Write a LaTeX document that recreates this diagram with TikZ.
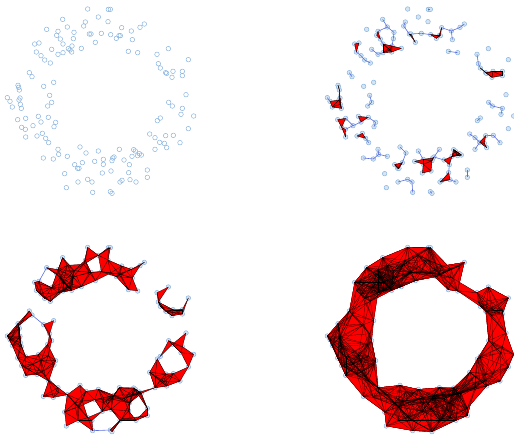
\documentclass[tikz,border=0pt]{standalone}
\usetikzlibrary{calc}
\definecolor{Vc}{HTML}{8AB4DE}
\definecolor{Ec}{HTML}{5C6EE0}
\definecolor{Tc}{HTML}{FF0000}
\tikzset{
  vtx/.style={circle, draw=Vc, line width=0.5pt, inner sep=0pt, minimum size=4.6pt},
  vtxon/.style={vtx, fill=Vc!35},
  tri/.style={fill=Tc},
  mesh/.style={black, line width=0.3pt},
  link/.style={Ec, line width=0.6pt},
}
% point cloud, in thirds of a pixel, y downwards
\def\cloud{263/27,325/28,331/28,295/51,188/58,256/66,324/65,433/72,420/82,140/88,202/81,251/78,365/83,174/94,222/97,268/102,273/102,304/100,332/104,394/93,170/106,181/117,220/116,357/107,361/107,349/115,397/119,104/132,117/129,189/132,216/138,286/127,155/148,205/146,210/150,244/145,109/156,174/163,189/158,215/156,385/154,413/158,471/163,505/146,123/167,134/180,151/189,565/179,475/191,481/204,497/218,500/220,519/214,547/214,547/227,516/232,88/218,96/230,161/247,54/256,56/262,58/270,131/259,558/284,22/293,30/304,60/294,57/300,61/313,149/286,155/307,143/318,37/321,64/325,506/307,517/318,547/325,543/343,581/348,115/349,145/352,53/359,77/355,123/366,167/367,162/380,99/377,65/382,76/388,481/354,472/362,565/386,127/400,111/408,77/411,137/415,146/428,449/402,465/413,479/427,497/407,520/406,540/428,493/430,500/443,465/448,240/441,174/448,295/453,258/459,358/448,401/449,406/453,418/461,424/465,413/467,396/469,130/474,160/477,202/469,176/463,310/478,338/474,342/471,336/482,372/480,224/494,247/488,233/505,237/505,284/484,310/493,388/494,442/510,194/521,307/519,333/513,386/518,442/532,234/546,263/538,276/546,360/546,366/541,390/539,408/546,199/563,278/577,331/575,336/580}
\newcount\np
\newcommand{\loadcloud}{%
  \global\np=0
  \foreach \x/\y in \cloud {%
    \global\advance\np by 1
    \expandafter\xdef\csname px\the\np\endcsname{\x}%
    \expandafter\xdef\csname py\the\np\endcsname{\y}}%
  \xdef\npts{\the\np}}
\newcommand{\dsq}[2]{\numexpr(\csname px#1\endcsname-\csname px#2\endcsname)*(\csname px#1\endcsname-\csname px#2\endcsname)+(\csname py#1\endcsname-\csname py#2\endcsname)*(\csname py#1\endcsname-\csname py#2\endcsname)\relax}
% #1 panel name, #2/#3 offset, #4 squared radius, #5 mesh width
\newcommand{\ripspanel}[5]{%
  \foreach \i in {1,...,\npts}{%
    \edef\cx{\csname px\i\endcsname}\edef\cy{\csname py\i\endcsname}%
    \coordinate (#1\i) at (#2+\cx,#3+\cy);
    \expandafter\xdef\csname n#1-\i\endcsname{0}}%
  \ifnum#4>0
  \foreach \i in {1,...,\npts} \node[vtxon] (#1v\i) at (#1\i) {};
  % edges
  \foreach \i in {1,...,\npts}{\foreach \j in {1,...,\npts}{%
    \ifnum\j>\i\relax\ifnum\dsq{\i}{\j}<#4\relax
      \expandafter\gdef\csname e#1-\i-\j\endcsname{}%
      \expandafter\xdef\csname n#1-\i\endcsname{\csname n#1-\i\endcsname,\j}%
    \fi\fi}}%
  % triangles
  \foreach \i in {1,...,\npts}{%
    \edef\nbi{\csname n#1-\i\endcsname}%
    \foreach \j in \nbi {\ifnum\j>0
      \edef\nbj{\csname n#1-\j\endcsname}%
      \foreach \k in \nbj {\ifnum\k>0
        \ifcsname e#1-\i-\k\endcsname
          \fill[tri] (#1v\i.center) -- (#1v\j.center) -- (#1v\k.center) -- cycle;
          \expandafter\gdef\csname t#1-\i-\j\endcsname{}%
          \expandafter\gdef\csname t#1-\j-\k\endcsname{}%
          \expandafter\gdef\csname t#1-\i-\k\endcsname{}%
        \fi\fi}%
    \fi}}%
  \foreach \i in {1,...,\npts}{%
    \edef\nbi{\csname n#1-\i\endcsname}%
    \foreach \j in \nbi {\ifnum\j>0
      \ifcsname t#1-\i-\j\endcsname
        \draw[mesh, line width=#5] (#1v\i.center) -- (#1v\j.center);
      \else
        \draw[link] (#1v\i.center) -- (#1v\j.center);
      \fi\fi}}%
  \else
  \foreach \i in {1,...,\npts} \node[vtx] (#1v\i) at (#1\i) {};
  \fi}

\begin{document}
\begin{tikzpicture}[x=0.3333pt, y=-0.3333pt]
  \useasboundingbox (0,0) rectangle (1542,1323);
  \loadcloud
  \ripspanel{A}{0}{0}{0}{0.3pt}
  \ripspanel{B}{960}{0}{1000}{0.4pt}
  \ripspanel{C}{0}{715}{3025}{0.3pt}
  \ripspanel{D}{960}{715}{8464}{0.17pt}
\end{tikzpicture}
\end{document}
